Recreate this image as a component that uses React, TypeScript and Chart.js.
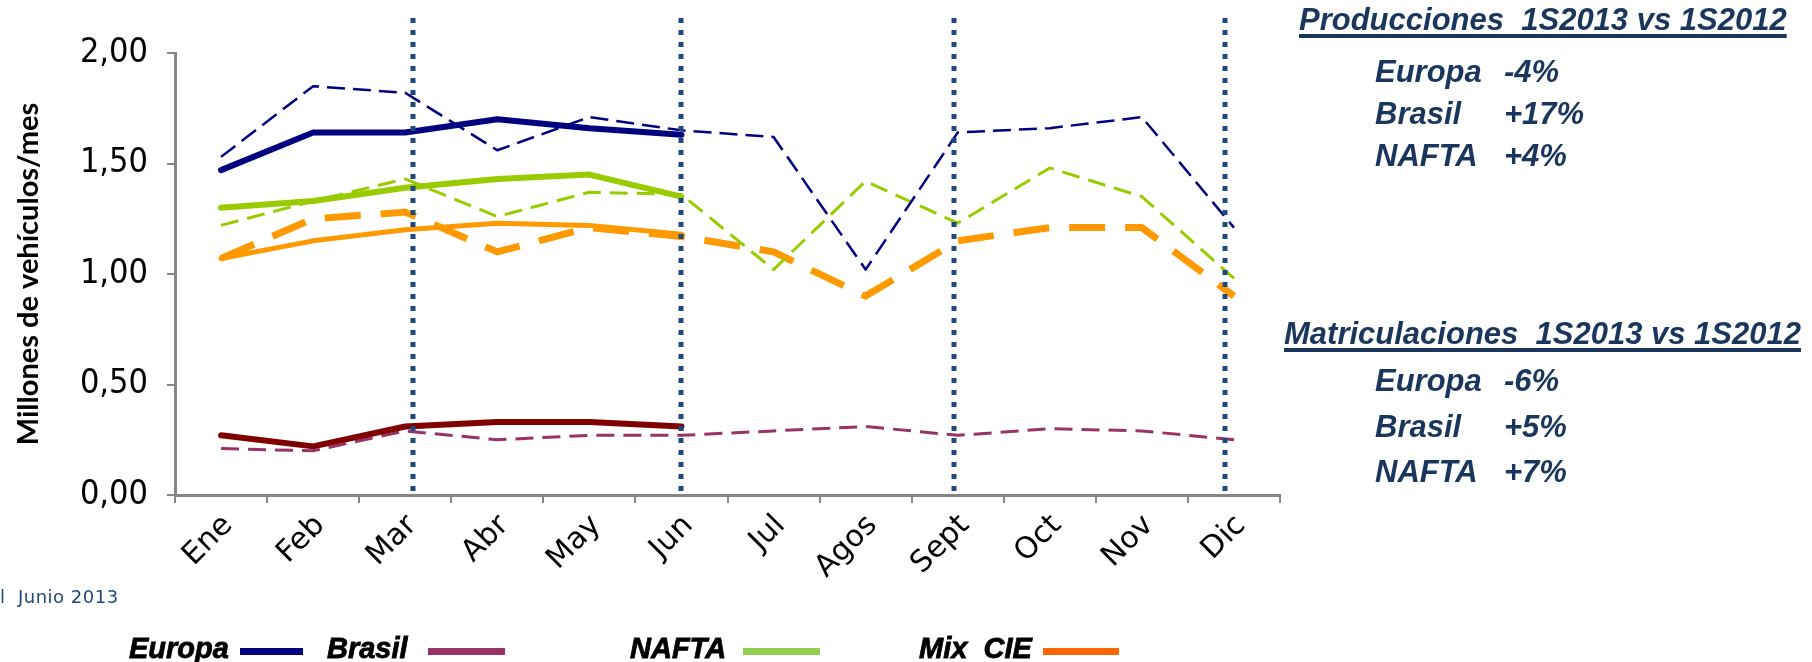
import React, { useEffect, useRef } from 'react';
import { Chart, registerables } from 'chart.js';

Chart.register(...registerables);

const months = ['Ene', 'Feb', 'Mar', 'Abr', 'May', 'Jun', 'Jul', 'Agos', 'Sept', 'Oct', 'Nov', 'Dic'];
const yTicks = [0, 0.5, 1, 1.5, 2];
// positions of the dotted separators, in category units (0 = Ene)
const markerPositions = [2.08, 5.0, 7.96, 10.9];

const europa2013 = [1.47, 1.64, 1.64, 1.70, 1.66, 1.63];
const europa2012 = [1.53, 1.85, 1.82, 1.56, 1.71, 1.65, 1.62, 1.02, 1.64, 1.66, 1.71, 1.21];
const brasil2013 = [0.27, 0.22, 0.31, 0.33, 0.33, 0.31];
const brasil2012 = [0.21, 0.20, 0.29, 0.25, 0.27, 0.27, 0.29, 0.31, 0.27, 0.30, 0.29, 0.25];
const nafta2013 = [1.30, 1.33, 1.39, 1.43, 1.45, 1.35];
const nafta2012 = [1.22, 1.33, 1.43, 1.26, 1.37, 1.36, 1.02, 1.42, 1.23, 1.48, 1.35, 0.98];
const mix2013 = [1.07, 1.15, 1.20, 1.23, 1.22, 1.18];
const mix2012 = [1.07, 1.25, 1.28, 1.10, 1.21, 1.17, 1.10, 0.90, 1.15, 1.21, 1.21, 0.90];

const produccionesRows = [
  ['Europa', '-4%'],
  ['Brasil', '+17%'],
  ['NAFTA', '+4%'],
];
const matriculacionesRows = [
  ['Europa', '-6%'],
  ['Brasil', '+5%'],
  ['NAFTA', '+7%'],
];
const legendItems = [
  { label: 'Europa', color: '#000080', textLeft: 129, lineLeft: 240, lineWidth: 63 },
  { label: 'Brasil', color: '#993366', textLeft: 327, lineLeft: 428, lineWidth: 77 },
  { label: 'NAFTA', color: '#92D050', textLeft: 630, lineLeft: 743, lineWidth: 77 },
  { label: 'Mix  CIE', color: '#FF6600', textLeft: 919, lineLeft: 1043, lineWidth: 76 },
];

const W = 1812;
const H = 662;
const AXIS_LEFT = 175;
const AXIS_BOTTOM = 495;
const PAD_LEFT = 9;

const dottedLines = {
  id: 'dottedLines',
  afterDatasetsDraw(chart: any) {
    const xs = chart.scales.x;
    const ctx = chart.ctx;
    const step = xs.getPixelForValue(1) - xs.getPixelForValue(0);
    ctx.save();
    ctx.strokeStyle = '#1F497D';
    ctx.lineWidth = 5;
    ctx.setLineDash([5, 7]);
    markerPositions.forEach((p) => {
      const base = Math.floor(p);
      const px = Math.round(xs.getPixelForValue(base) + (p - base) * step);
      ctx.beginPath();
      ctx.moveTo(px, 18);
      ctx.lineTo(px, chart.chartArea.bottom);
      ctx.stroke();
    });
    ctx.restore();
  },
};

const navy = '#1B365D';

export default function App() {
  const ref = useRef<HTMLCanvasElement | null>(null);

  useEffect(() => {
    const canvas = ref.current;
    if (!canvas) return;
    const dash = (color: string, width: number, pattern: number[], data: number[], label: string) => ({
      label,
      data,
      borderColor: color,
      backgroundColor: color,
      borderWidth: width,
      borderDash: pattern,
      borderCapStyle: 'butt',
      borderJoinStyle: 'round',
      pointRadius: 0,
      fill: false,
      tension: 0,
    });
    const solid = (color: string, width: number, data: number[], label: string) => ({
      label,
      data,
      borderColor: color,
      backgroundColor: color,
      borderWidth: width,
      borderCapStyle: 'round',
      borderJoinStyle: 'round',
      pointRadius: 0,
      fill: false,
      tension: 0,
    });
    const chart = new Chart(canvas, {
      type: 'line',
      data: {
        labels: months,
        datasets: [
          solid('#000080', 6, europa2013, 'Europa 2013'),
          solid('#800000', 6, brasil2013, 'Brasil 2013'),
          solid('#99CC00', 6, nafta2013, 'NAFTA 2013'),
          solid('#FF9900', 5, mix2013, 'Mix CIE 2013'),
          dash('#000080', 2.5, [18, 8], europa2012, 'Europa 2012'),
          dash('#993366', 3, [18, 9], brasil2012, 'Brasil 2012'),
          dash('#99CC00', 3, [18, 9], nafta2012, 'NAFTA 2012'),
          dash('#FF9900', 7, [36, 20], mix2012, 'Mix CIE 2012'),
        ] as any,
      },
      options: {
        animation: false,
        responsive: false,
        devicePixelRatio: 1,
        layout: { padding: { left: PAD_LEFT, top: 53, right: W - 1280, bottom: 0 } },
        plugins: { legend: { display: false }, tooltip: { enabled: false } },
        scales: {
          x: {
            offset: true,
            grid: { offset: true, drawOnChartArea: false, drawTicks: true, tickLength: 8, color: '#868686', lineWidth: 2 },
            border: { color: '#868686', width: 3 },
            ticks: {
              minRotation: 45,
              maxRotation: 45,
              autoSkip: false,
              padding: 5,
              labelOffset: 7,
              color: '#000',
              font: { family: 'DejaVu Sans', size: 30 },
            },
            afterFit: (s: any) => {
              s.height = H - AXIS_BOTTOM;
            },
          },
          y: {
            min: yTicks[0],
            max: yTicks[yTicks.length - 1],
            afterBuildTicks: (s: any) => {
              s.ticks = yTicks.map((v) => ({ value: v }));
            },
            grid: { drawOnChartArea: false, drawTicks: true, tickLength: 8, color: '#868686', lineWidth: 2 },
            border: { color: '#868686', width: 3 },
            ticks: {
              padding: 19,
              color: '#000',
              font: { family: '"DejaVu Sans Condensed", "DejaVu Sans"', size: 34 },
              callback: (v: any) => Number(v).toFixed(2).replace('.', ','),
            },
            title: {
              display: true,
              text: 'Millones de vehículos/mes',
              color: '#000',
              font: { family: 'Lato', size: 29, weight: 'bold' },
              padding: { top: 2, bottom: 0 },
            },
            afterFit: (s: any) => {
              s.width = AXIS_LEFT - PAD_LEFT;
            },
          },
        },
      },
      plugins: [dottedLines],
    } as any);
    return () => chart.destroy();
  }, []);

  const panelText: React.CSSProperties = {
    position: 'absolute',
    fontFamily: '"Liberation Sans", Arial, sans-serif',
    fontWeight: 'bold',
    fontStyle: 'italic',
    color: navy,
    fontSize: 31,
    lineHeight: '31px',
    whiteSpace: 'pre',
    margin: 0,
  };
  const titleStyle: React.CSSProperties = {
    ...panelText,
    textDecoration: 'underline',
    textDecorationThickness: '4px',
    textUnderlineOffset: '4px',
  };

  const renderRows = (rows: string[][], firstTop: number, gap: number) =>
    rows.map((r, i) => (
      <React.Fragment key={r[0] + firstTop}>
        <div style={{ ...panelText, left: 1375, top: firstTop + i * gap }}>{r[0]}</div>
        <div style={{ ...panelText, left: 1504, top: firstTop + i * gap }}>{r[1]}</div>
      </React.Fragment>
    ));

  return (
    <div style={{ position: 'fixed', left: 0, top: 0, width: W, height: H, background: '#fff', overflow: 'hidden' }}>
      <canvas ref={ref} width={W} height={H} style={{ position: 'absolute', left: 0, top: 0, width: W, height: H }} />
      <div style={{ ...titleStyle, left: 1299, top: 4 }}>{'Producciones  1S2013 vs 1S2012'}</div>
      {renderRows(produccionesRows, 56, 42)}
      <div style={{ ...titleStyle, left: 1284, top: 318 }}>{'Matriculaciones  1S2013 vs 1S2012'}</div>
      {renderRows(matriculacionesRows, 365, 45.5)}
      <div
        style={{
          position: 'absolute',
          left: 0,
          top: 586,
          fontFamily: '"DejaVu Sans", sans-serif',
          fontSize: 18,
          letterSpacing: '0.5px',
          color: '#1F497D',
          whiteSpace: 'pre',
          lineHeight: '22px',
        }}
      >
        {'l  Junio 2013'}
      </div>
      {legendItems.map((it) => (
        <React.Fragment key={it.label}>
          <div
            style={{
              position: 'absolute',
              left: it.textLeft,
              top: 634,
              fontFamily: '"Liberation Sans", Arial, sans-serif',
              fontWeight: 'bold',
              fontStyle: 'italic',
              fontSize: 29,
              lineHeight: '29px',
              color: '#000',
              whiteSpace: 'pre',
              WebkitTextStroke: '0.8px #000',
            }}
          >
            {it.label}
          </div>
          <div
            style={{
              position: 'absolute',
              left: it.lineLeft,
              top: 648,
              width: it.lineWidth,
              height: 7,
              background: it.color,
            }}
          />
        </React.Fragment>
      ))}
    </div>
  );
}
